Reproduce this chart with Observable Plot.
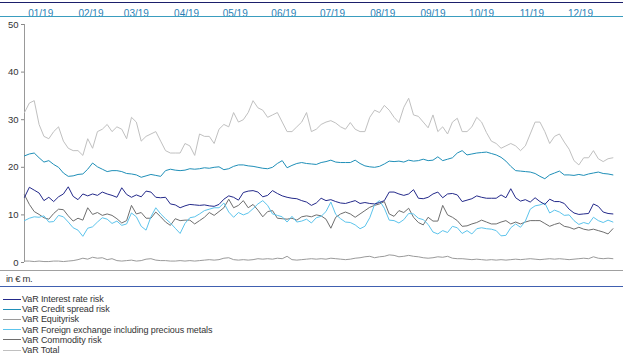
<!DOCTYPE html>
<html><head><meta charset="utf-8">
<script src="https://cdn.jsdelivr.net/npm/d3@7"></script>
<script src="https://cdn.jsdelivr.net/npm/@observablehq/plot@0.6"></script>
<style>
body{margin:0;background:#fff;font-family:"Liberation Sans",Arial,sans-serif;}
#wrap{position:relative;width:623px;height:361px;overflow:hidden;}
#chart{position:absolute;left:0;top:0;}
.hl{position:absolute;left:0;width:623px;height:1px;}
#unit{position:absolute;left:6px;top:273px;font-size:9.5px;color:#333;letter-spacing:-0.3px;}
#legend{position:absolute;left:0;top:294px;}
.item{height:10.2px;display:flex;align-items:center;font-size:9px;color:#333;letter-spacing:-0.1px;white-space:nowrap;}
.sw{width:18px;height:1px;margin-left:3px;margin-right:1px;}
</style></head><body>
<div id="wrap">
<div id="chart"></div>
<div class="hl" style="top:2px;background:#1b1f6b"></div>
<div class="hl" style="top:16px;background:#3a9dbf"></div>
<div class="hl" style="top:270px;background:#a0a0a0"></div>
<div id="unit">in € m.</div>
<div class="hl" style="top:286px;background:#4060b0"></div>
<div id="legend"></div>
</div>
<script>
const seriesNames = ["VaR Interest rate risk","VaR Credit spread risk","VaR Equityrisk","VaR Foreign exchange including precious metals","VaR Commodity risk","VaR Total"];
const seriesColors = ["#23298a","#1f8fb8","#9a9a9a","#5cc4ec","#6e6e6e","#c0c0c0"];
const monthTicks = ["2019-01-11","2019-02-11","2019-03-11","2019-04-11","2019-05-11","2019-06-10","2019-07-10","2019-08-10","2019-09-10","2019-10-10","2019-11-10","2019-12-10"];
const yTicks = [0,10,20,30,40,50];
const startDate = "2019-01-01";
const stepDays = 3;

const interestRate = [13.7,15.8,15.2,14.6,13,13.7,12.8,13.8,14.4,15.9,
13.9,13.2,14.4,14,14.4,14.1,14.8,14.4,14.1,13.7,
15.7,14.3,13.7,14.2,13.8,15,14.8,13.7,13.6,13.7,
12.3,12.1,11.5,11.9,12.2,12.1,12,12.1,11.9,11.8,
12.2,13.3,14,13.7,13.1,14.7,15,15.1,14.8,13.8,
14.1,15.1,14.5,14,13.7,13.5,13.4,13,12.7,12,
12.5,13.5,13,13.2,12.8,12.5,12.4,12.7,13,12.4,
12.6,12.4,12.3,12.6,13,14.8,14.8,14.4,14.1,14.4,
15.3,13.5,13.4,13.7,14.4,14.8,13.6,14.4,14.5,14.2,
12.8,13.1,13.4,14,13.7,13.5,13.5,13.5,14.2,13.6,
15.5,13.6,12.9,13.2,12.7,13.6,12.8,12.2,13.3,12.8,
12.8,12.4,11.2,10.4,10.1,10.2,10.3,12.3,11.8,10.6,
10.3,10.2];

const creditSpread = [22.4,22.8,23,22,21.1,21.4,20.6,20,18.8,18.1,
18.2,18.5,18.6,19.6,20.9,20.1,19.6,19.1,19.3,19.3,
19.1,18.7,18.6,18.4,17.9,18.2,18.5,18.3,18.1,19.3,
19.6,19.4,19.3,19.4,19.7,19.6,19.7,19.9,19.8,20,
20.1,19.5,19.7,20.2,20.5,20.5,20.3,20.2,20,19.8,
19.7,20,20.8,21.4,19.9,20.4,20.8,21,20.8,20.7,
20.6,21,21.2,21.5,21.1,21,21,21,21.5,20.8,
20.3,20.1,20,20.2,20.7,21.3,21.2,21.3,21.1,21.5,
21.3,21.4,21.7,21.4,21.5,22.2,21.4,21.7,22,23,
23.5,22.6,22.8,23,23.1,23.2,22.9,22.6,22.1,21.3,
20.2,19.3,19.2,19.1,19,18.7,18.1,17.6,18.4,18.8,
19.2,18.4,18.4,18.3,18.5,18.3,18.6,18.8,19,18.7,
18.6,18.4];

const equity = [0.3,0.3,0.2,0.3,0.2,0.2,0.3,0.3,0.2,0.3,
0.4,0.6,0.9,0.7,1.1,0.9,1.0,0.6,0.8,0.4,
0.3,0.4,0.5,0.3,0.4,0.7,0.8,0.5,0.4,0.4,
0.3,0.3,0.4,0.3,0.4,0.3,0.4,0.5,0.6,0.5,
0.6,0.9,1.0,0.6,0.5,0.6,0.5,0.6,0.8,0.7,
0.8,0.7,0.9,0.8,1.3,0.6,0.5,0.6,0.7,0.8,
0.7,0.8,0.7,0.9,0.8,0.7,0.6,0.7,0.9,1.0,
1.2,1.3,1.0,1.2,1.3,1.6,1.5,1.2,1.3,1.5,
1.3,1.2,1.0,0.9,1.0,1.2,1.1,1.3,0.9,0.8,
0.8,0.7,0.6,0.7,0.6,0.5,0.6,0.5,0.6,0.5,
0.6,0.7,0.6,0.7,0.8,0.7,0.6,0.7,0.8,0.7,
0.8,0.7,0.6,0.7,0.8,0.9,0.8,1.2,0.9,0.8,
0.9,0.8];

const fxPrecious = [8.8,9.3,9.6,9.5,9.8,8.5,8.6,9.9,9.6,8.5,
7.3,6.8,5.5,7.2,7.5,8.5,9.4,9.1,8.2,8.7,
7.8,8.1,10.4,9.6,7.6,6.8,9.6,11.5,10.2,9.2,
8.3,7.2,6.1,8.2,9.4,9.6,10.2,10.9,11.2,11.5,
11.5,12.5,10.6,9.5,10.5,10,10.4,11.3,12.3,13,
12,10.2,9.9,9.6,8.5,9.7,8.5,8.7,9.1,8.3,
9.4,9.7,10.7,12.7,10.1,9.2,8.5,8.4,7.9,7.1,
7.6,9.4,12.2,13,11.4,8.9,8.8,8.3,9,10.3,
10.2,9.3,9,8,6.4,6,6.7,6.3,7.6,7.3,
6.1,6.7,6,7.1,7.3,7.1,7,6.7,5.6,5.7,
7.3,8.1,7.4,8.7,11.2,11.9,12.1,12.5,10.4,11,
10.6,9.9,10,8.8,8,8.4,8.1,9.5,8.8,8.4,
8.9,8.5];

const commodity = [14.2,12.2,10.7,10.1,9.4,9.1,10.3,11.2,11.1,9.8,
8.7,9.3,8.9,11.5,10.1,10.5,9.9,10.2,9.9,9.2,
8.3,8.8,12,10.2,10.5,9.3,9.3,10.6,9.6,8.5,
7.8,9.2,8.8,8.9,8.9,8.1,8.8,9.5,10.5,9.9,
10.7,11.5,13.3,11.5,12,13,11.5,12.2,11,9.6,
10.7,10.9,9.3,9.2,9.1,9.3,8.9,9.6,9.8,9.6,
10,9.8,9.1,7.2,9.5,10.2,10.6,10.2,9.5,10.2,
10.9,11.6,12,12.3,12.8,10.2,9.7,10.9,10.5,11.4,
9.5,8.4,7.9,9.5,8.7,8.7,12,10,9.5,8.8,
7.6,7.7,8.1,8.4,8.9,8.5,8.1,8.1,8.5,8.8,
8.1,8.5,8.1,8.5,8.8,8.8,8.8,8.2,7.6,8,
8.3,7.6,7.4,7,7.4,7,6.8,7,6.7,6.4,
6,7.1];

const total = [31.5,33.5,34,29,26.5,26,27.5,28.5,25.5,24,
23.5,23.5,22.5,26,24,27.5,28,29,27.5,28.5,
28,26,30.5,29.5,25.5,26.5,27,27.5,25.5,23.5,
23,23,23,25,24.5,22.5,27,26.5,26.5,25,
28,29,28.5,31.5,29.5,30,31.5,34,32.5,32,
30.5,31,31.5,29.5,27.5,27.5,28.5,29.5,31.5,27.5,
28,29,29.5,29.8,29.3,28.5,28,29.4,28,27.5,
27.5,30.5,32,31.5,33,32,30.5,29.4,32.6,34.5,
31,30.7,29.5,28.3,31,27.5,28.5,27,29.5,30.3,
27.5,27.5,28.5,30.5,29.5,27.3,25.5,25,24,24.5,
25,24.5,23.5,24.5,27,29.5,29.5,27.5,25,26.5,
27,25.3,23.8,21.4,20.5,22,22,23.5,21.8,21.2,
21.8,22];

const seriesValues = [interestRate, creditSpread, equity, fxPrecious, commodity, total];

const start = new Date(startDate);
const dates = total.map((_, i) => d3.utcDay.offset(start, stepDays * i));
const end = dates[dates.length - 1];

const drawOrder = [5, 1, 4, 3, 0, 2];
const lineMarks = drawOrder.map(k =>
  Plot.line(seriesValues[k], {x: (d, i) => dates[i], y: d => d, stroke: seriesColors[k], strokeWidth: 1})
);

const chart = Plot.plot({
  width: 623, height: 264,
  marginLeft: 24, marginRight: 623 - 612.4, marginTop: 24, marginBottom: 2,
  style: {fontFamily: "Liberation Sans, Arial, sans-serif", fontSize: "9px", background: "transparent", overflow: "visible"},
  x: {type: "utc", domain: [start, end]},
  y: {domain: [0, 50]},
  marks: [
    Plot.axisX({anchor: "top", ticks: monthTicks.map(s => new Date(s)), tickFormat: d3.utcFormat("%m/%y"), tickSize: 0, tickPadding: 8, fill: "#2d7fb5", fontSize: 10, label: null}),
    Plot.axisY({ticks: yTicks, tickSize: 3, tickPadding: 3, label: null, stroke: "#888", fill: "#333", fontSize: 9.5}),
    Plot.ruleX([start], {y1: 0, y2: 50, stroke: "#999"}),
    ...lineMarks
  ]
});
document.getElementById("chart").appendChild(chart);

const legend = document.getElementById("legend");
seriesNames.forEach((name, k) => {
  const it = document.createElement("div");
  it.className = "item";
  const sw = document.createElement("span");
  sw.className = "sw";
  sw.style.background = seriesColors[k];
  const tx = document.createElement("span");
  tx.textContent = name;
  it.appendChild(sw); it.appendChild(tx);
  legend.appendChild(it);
});
</script>
</body></html>
